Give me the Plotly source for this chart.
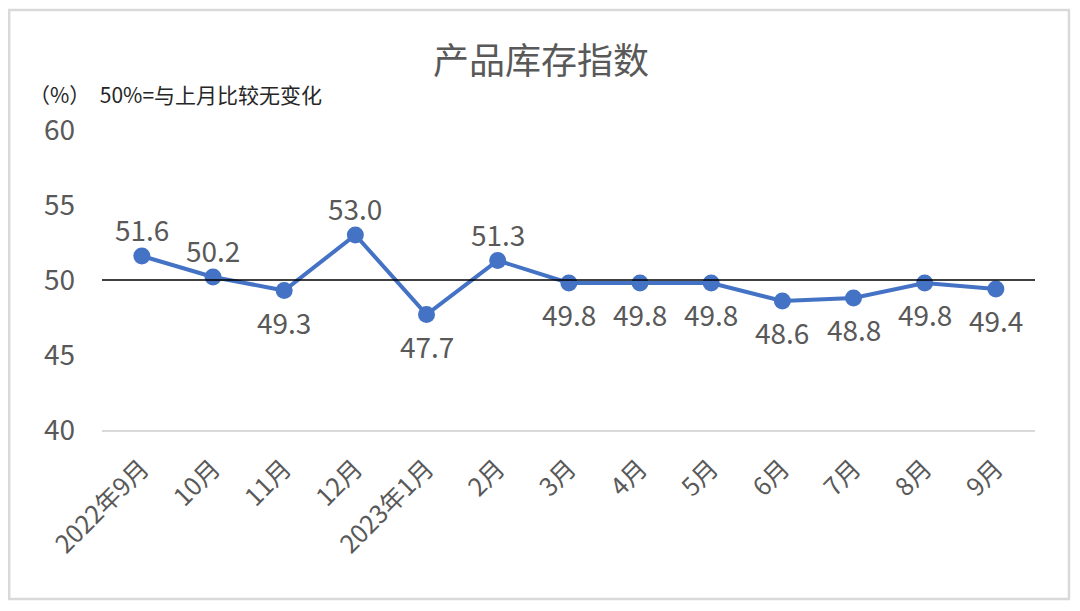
import plotly.graph_objects as go

months = ["2022年9月", "10月", "11月", "12月", "2023年1月", "2月", "3月",
          "4月", "5月", "6月", "7月", "8月", "9月"]
inventory_index = [51.6, 50.2, 49.3, 53.0, 47.7, 51.3, 49.8, 49.8, 49.8, 48.6, 48.8, 49.8, 49.4]
label_side = ["top", "top", "bottom", "top", "bottom", "top", "bottom",
              "bottom", "bottom", "bottom", "bottom", "bottom", "bottom"]

font_cn = "Noto Sans CJK SC, Noto Sans, sans-serif"
grey_txt = "#595959"

fig = go.Figure()
fig.add_trace(go.Scatter(
    x=months,
    y=inventory_index,
    mode="lines+markers",
    line=dict(color="#4472C4", width=4),
    marker=dict(color="#4472C4", size=17),
    cliponaxis=False,
    hoverinfo="x+y",
))

# data labels, a bit further from the markers than plotly's textposition puts them
for m, v, side in zip(months, inventory_index, label_side):
    fig.add_annotation(x=m, y=v, text=f"{v:.1f}", showarrow=False,
                       yshift=27 if side == "top" else -31,
                       font=dict(family=font_cn, size=28, color=grey_txt))

# 50 reference line
fig.add_shape(type="line", xref="paper", yref="y", x0=0, x1=1, y0=50, y1=50,
              line=dict(color="black", width=1.5))

# outer chart border
fig.add_shape(type="rect", xref="paper", yref="paper",
              x0=-0.0995, x1=1.0364, y0=-0.563, y1=1.4,
              line=dict(color="#D9D9D9", width=2.5), fillcolor="rgba(0,0,0,0)")

fig.add_annotation(text="产品库存指数", xref="paper", yref="paper", x=0.471, y=1.24,
                   showarrow=False, xanchor="center", yanchor="middle",
                   font=dict(family=font_cn, size=36, color=grey_txt))
fig.add_annotation(text="（%）  50%=与上月比较无变化", xref="paper", yref="paper",
                   x=-0.08, y=1.12, showarrow=False, xanchor="left", yanchor="middle",
                   font=dict(family=font_cn, size=21, color="#262626"))

# page body keeps an 8px margin, so the figure is 8px smaller than the window
fig.update_layout(
    width=1072, height=603,
    margin=dict(l=94, r=45, t=122, b=181),
    paper_bgcolor="white", plot_bgcolor="white",
    showlegend=False,
    xaxis=dict(
        type="category",
        range=[-0.56, 12.55],
        tickangle=-45,
        showgrid=False,
        showline=True, linecolor="#D9D9D9", linewidth=2,
        ticks="", zeroline=False, ticklabelstandoff=12,
        tickfont=dict(family=font_cn, size=25, color=grey_txt),
    ),
    yaxis=dict(
        range=[40, 60],
        tickvals=[40, 45, 50, 55, 60],
        showgrid=False, zeroline=False, showline=False,
        ticks="", ticklabelstandoff=26,
        tickfont=dict(family=font_cn, size=28, color=grey_txt),
    ),
)

fig.write_html("out.html")
